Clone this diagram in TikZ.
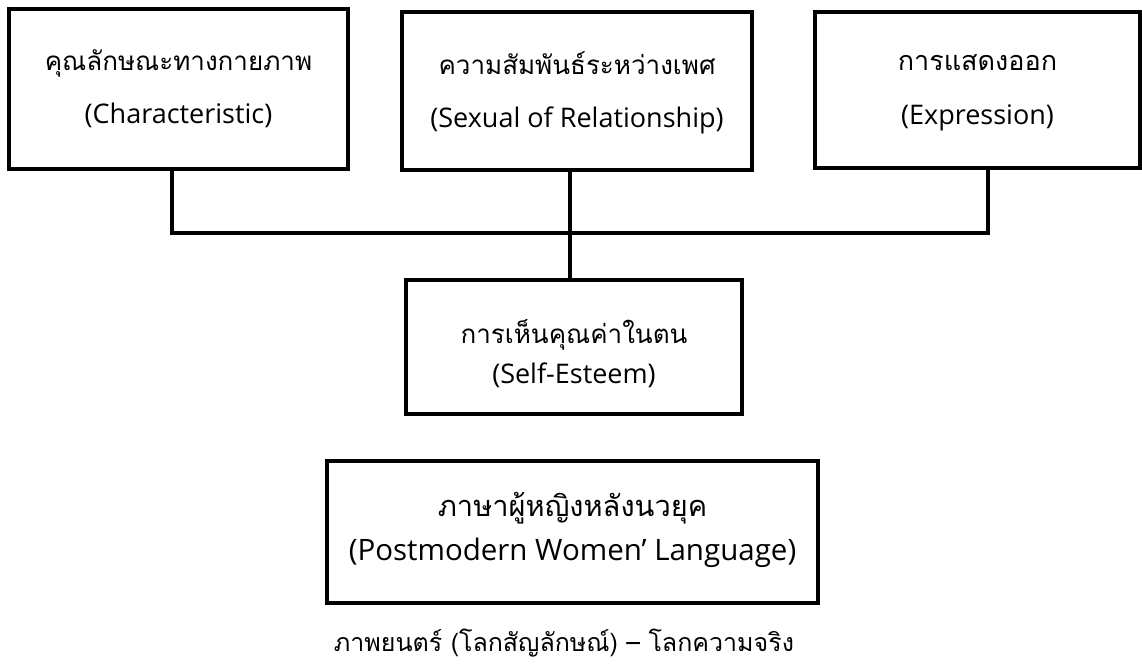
\documentclass[tikz,border=0pt]{standalone}
\usepackage{fontspec}
\setmainfont{Open Sans}
\newfontfamily\thai[Script=Thai]{Loma}
\usetikzlibrary{calc}
\begin{document}
\begin{tikzpicture}[x=1pt,y=-1pt,
  box/.style={draw,line width=3.6pt,minimum width=#1,inner sep=0pt},
  conn/.style={line width=3.6pt},
  th/.style={font=\thai\fontsize{26}{30}\selectfont,inner sep=0pt},
  en/.style={font=\fontsize{27}{32}\selectfont,inner sep=0pt},
  thb/.style={font=\thai\fontsize{29}{34}\selectfont,inner sep=0pt},
  enb/.style={font=\fontsize{29.5}{34}\selectfont,inner sep=0pt}]
\useasboundingbox (0,0) rectangle (1142,665);
\node[box=339pt,minimum height=160pt] (b1) at (178.5,89) {};
\node[box=350pt,minimum height=158pt] (b2) at (577,91) {};
\node[box=325pt,minimum height=156pt] (b3) at (977.5,90) {};
\node[box=336pt,minimum height=134pt] (b4) at (574,347) {};
\node[box=491pt,minimum height=142pt] (b5) at (572.5,532) {};
\node[th] (t1) at (178.5,63) {คุณลักษณะทางกายภาพ};
\node[en] (e1) at (178.5,115) {(Characteristic)};
\node[th] (t2) at (577,63) {ความสัมพันธ์ระหว่างเพศ};
\node[en] (e2) at (577,120) {(Sexual of Relationship)};
\node[th,font=\thai\fontsize{27}{32}\selectfont] (t3) at (977.5,63) {การแสดงออก};
\node[en] (e3) at (977.5,118) {(Expression)};
\node[th] (t4) at (574,335) {การเห็นคุณค่าในตน};
\node[en] (e4) at (574,375) {(Self-Esteem)};
\node[thb] (t5) at (572.5,508) {ภาษาผู้หญิงหลังนวยุค};
\node[enb] (e5) at (572.5,553) {(Postmodern Women’ Language)};
\node[th,font=\thai\fontsize{25}{28}\selectfont] (cap) at (564,643) {ภาพยนตร์ (โลกสัญลักษณ์) – โลกความจริง};
\coordinate (bar) at (570,233);
\draw[conn] ([xshift=-6.5pt]b1.south) |- (bar);
\draw[conn] ([xshift=10.5pt]b3.south) |- (bar);
\draw[conn] ([xshift=-7pt]b2.south) -- ([xshift=-4pt]b4.north);
\end{tikzpicture}
\end{document}
